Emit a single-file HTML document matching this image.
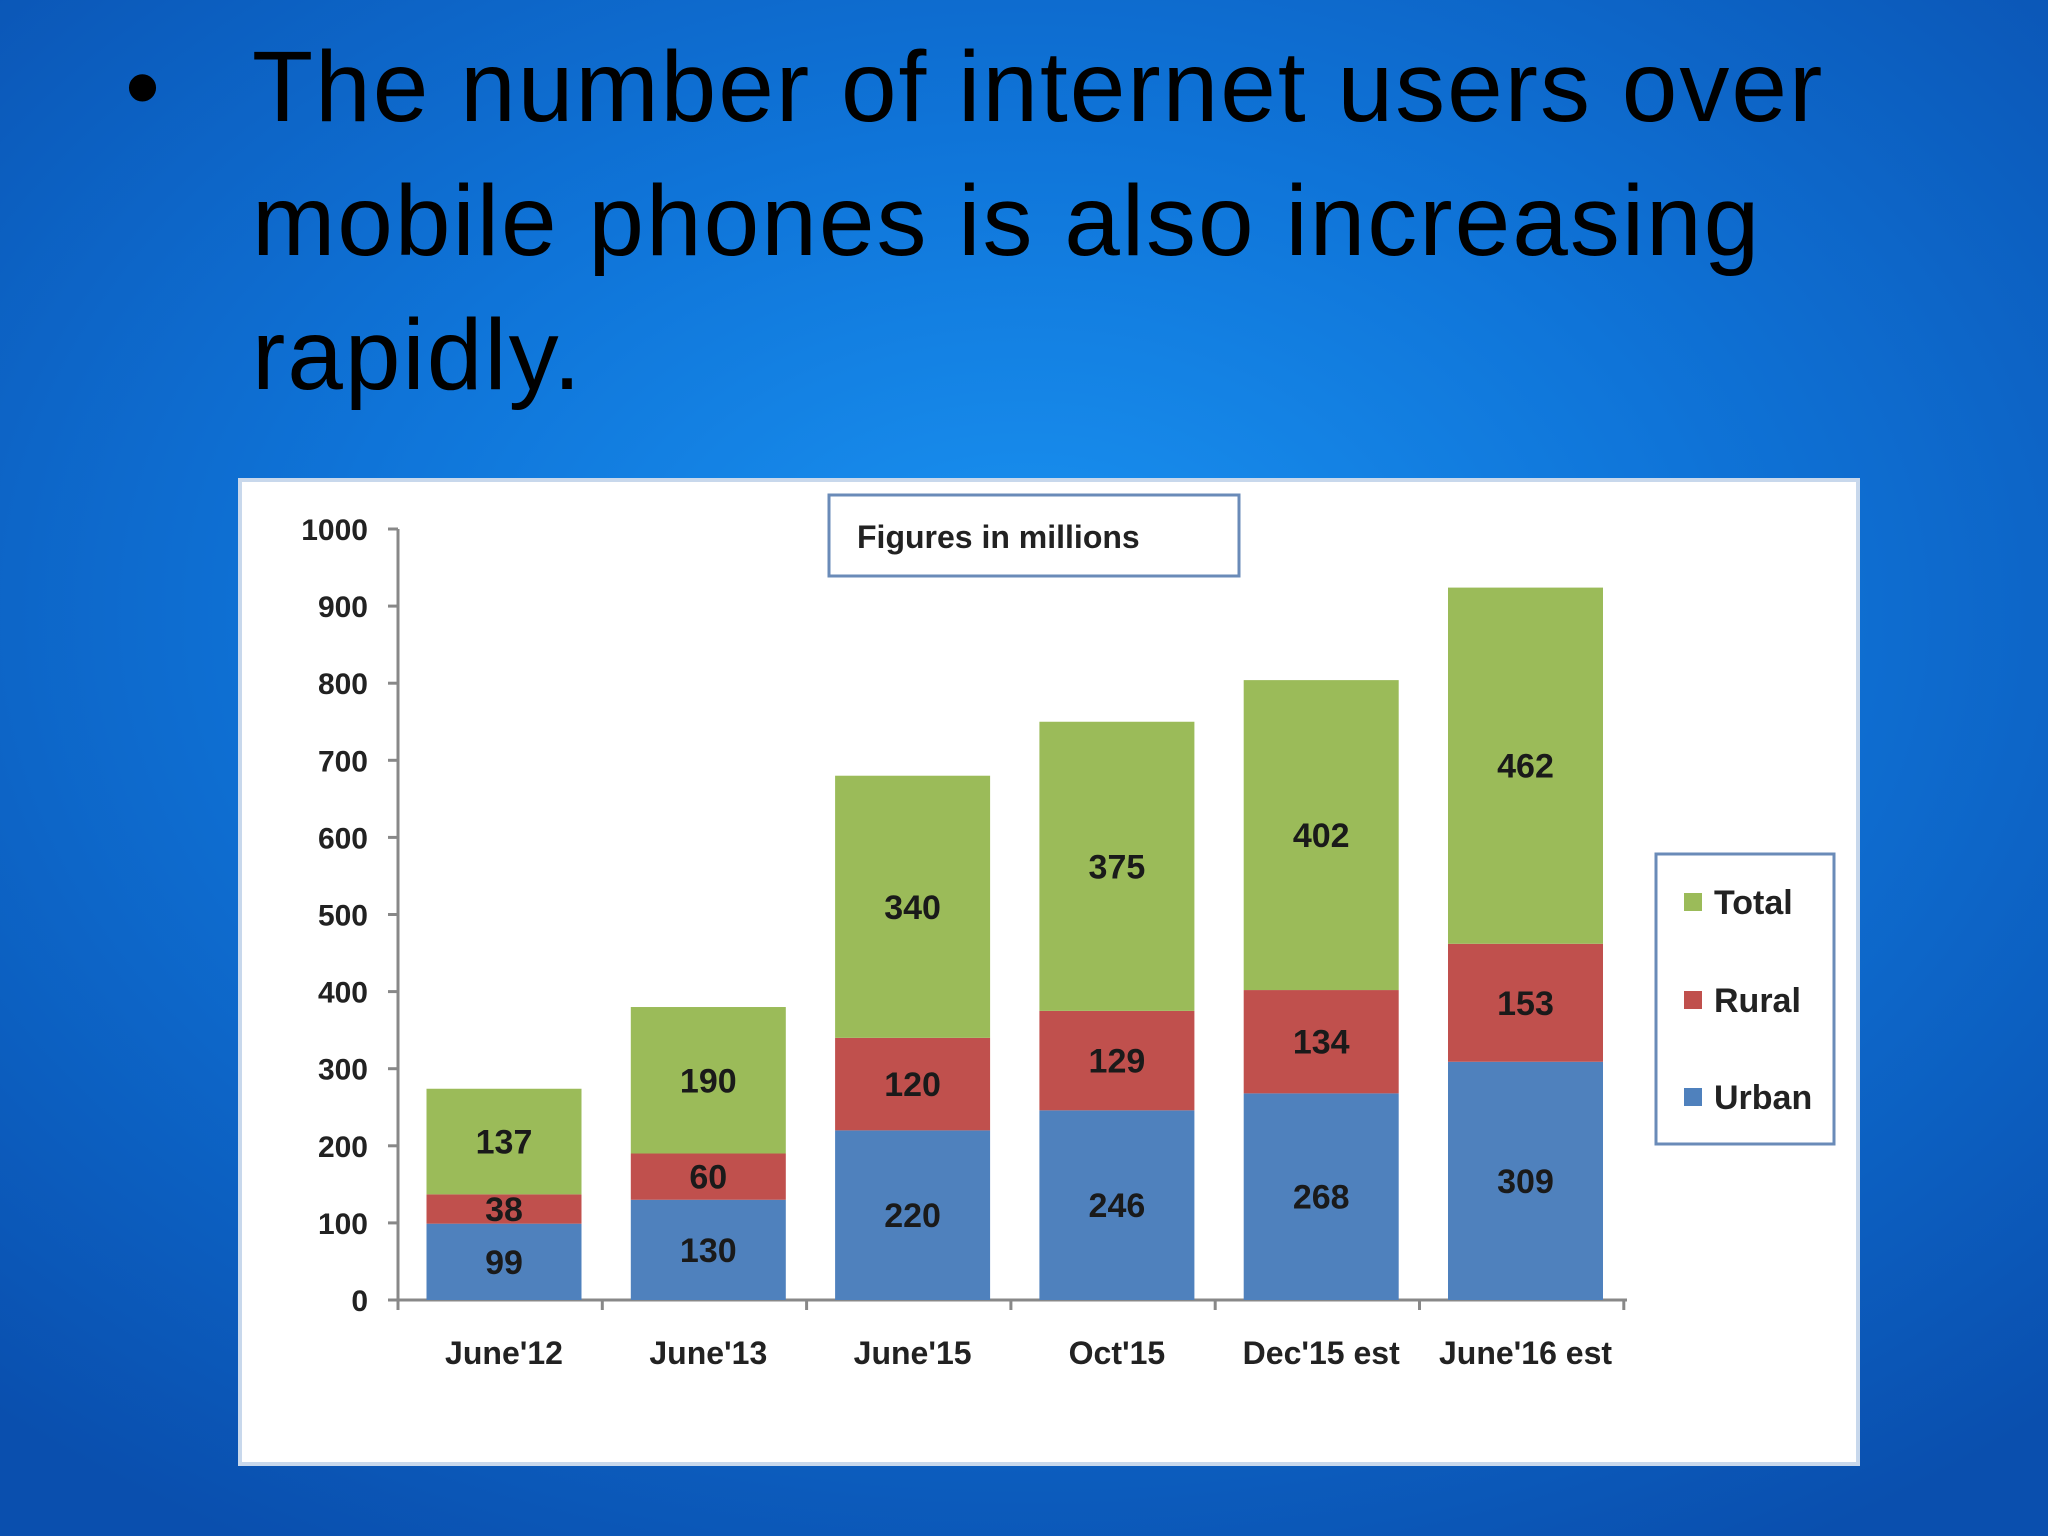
<!DOCTYPE html>
<html><head><meta charset="utf-8"><style>
html,body{margin:0;padding:0;width:2048px;height:1536px;overflow:hidden}
body{background:radial-gradient(ellipse 75% 70% at 50% 40%,#1a93f2 0%,#0f74d8 45%,#0a4fae 100%);font-family:"Liberation Sans",sans-serif;position:relative}
.t{position:absolute;left:252px;font-size:100px;color:#000;white-space:nowrap;letter-spacing:2px}
</style></head><body>
<div style="position:absolute;left:125px;top:30px;font-size:100px">•</div>
<div class="t" style="top:30px">The number of internet users over</div>
<div class="t" style="top:164px">mobile phones is also increasing</div>
<div class="t" style="top:298px">rapidly.</div>
<svg id="chart" width="2048" height="1536" style="position:absolute;left:0;top:0" xmlns="http://www.w3.org/2000/svg"></svg>
<script>
const categories=["June'12","June'13","June'15","Oct'15","Dec'15 est","June'16 est"];
const urban=[99,130,220,246,268,309];
const rural=[38,60,120,129,134,153];
const total=[137,190,340,375,402,462];
const yTicks=[0,100,200,300,400,500,600,700,800,900,1000];
const NS="http://www.w3.org/2000/svg";
const svg=document.getElementById('chart');
function mk(t,a,p){const e=document.createElementNS(NS,t);for(const k in a)e.setAttribute(k,a[k]);(p||svg).appendChild(e);return e;}
const y0=1300,y1=529,xL=398,xR=1627;
const y=v=>y0-(v/1000)*(y0-y1);
const step=204.3,bw=155,x0=504;
const xc=i=>x0+i*step;
const panel=mk('rect',{x:240,y:480,width:1618,height:984,fill:'#fff',stroke:'#c8d8ec','stroke-width':4});


const fb=mk('rect',{x:829,y:495,width:410,height:81,fill:'#fff',stroke:'#6a8bb8','stroke-width':3});


const ft=mk('text',{x:857,y:548,'font-size':32,'font-weight':'bold',fill:'#222','font-family':'Liberation Sans, sans-serif'});ft.textContent='Figures in millions';


mk('line',{x1:xL,y1:y1,x2:xL,y2:y0,stroke:'#888','stroke-width':3});
mk('line',{x1:xL,y1:y0,x2:xR,y2:y0,stroke:'#888','stroke-width':3});
yTicks.forEach(v=>{
 mk('line',{x1:xL-10,y1:y(v),x2:xL,y2:y(v),stroke:'#888','stroke-width':3});
 const t=mk('text',{x:xL-30,y:y(v)+11,'text-anchor':'end','font-size':30,'font-weight':'bold',fill:'#222','font-family':'Liberation Sans, sans-serif'});t.textContent=v;
 
 
});
for(let i=0;i<=categories.length;i++){const x=xL+i*step;mk('line',{x1:x,y1:y0,x2:x,y2:y0+10,stroke:'#888','stroke-width':3});}
const series=[[urban,'#4f81bd','urban'],[rural,'#c0504d','rural'],[total,'#9bbb59','total']];
categories.forEach((c,i)=>{
 let base=0;
 series.forEach(([arr,col,nm])=>{
  const v=arr[i];
  const r=mk('rect',{x:xc(i)-bw/2,y:y(base+v),width:bw,height:y(base)-y(base+v),fill:col});
  
  
  const t=mk('text',{x:xc(i),y:(y(base)+y(base+v))/2+12,'text-anchor':'middle','font-size':34,'font-weight':'bold',fill:'#1a1a1a','font-family':'Liberation Sans, sans-serif'});t.textContent=v;
  
  
  base+=v;
 });
 const t=mk('text',{x:xc(i),y:1364,'text-anchor':'middle','font-size':32,'font-weight':'bold',fill:'#222','font-family':'Liberation Sans, sans-serif'});t.textContent=c;
 
 
});
const lg=mk('rect',{x:1656,y:854,width:178,height:290,fill:'#fff',stroke:'#6a8bb8','stroke-width':3});


[['Total','#9bbb59',902],['Rural','#c0504d',1000],['Urban','#4f81bd',1097]].forEach(([n,c,yy])=>{
 const s=mk('rect',{x:1684,y:yy-9,width:18,height:18,fill:c});
 
 
 const t=mk('text',{x:1714,y:yy+12,'font-size':34,'font-weight':'bold',fill:'#222','font-family':'Liberation Sans, sans-serif'});t.textContent=n;
 
 
});
</script>
</body></html>
